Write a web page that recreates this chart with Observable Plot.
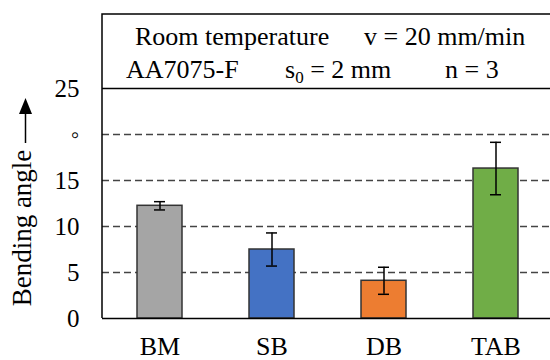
<!DOCTYPE html>
<html>
<head>
<meta charset="utf-8">
<script src="https://cdn.jsdelivr.net/npm/d3@7"></script>
<script src="https://cdn.jsdelivr.net/npm/@observablehq/plot@0.6"></script>
<style>
  html, body { margin: 0; padding: 0; background: white; }
</style>
</head>
<body>
<div id="chart"></div>
<script>
const categories = ["BM", "SB", "DB", "TAB"];
const means = [12.25, 7.5, 4.1, 16.3];
const errors = [0.45, 1.8, 1.47, 2.85];
const barColors = ["#a5a5a5", "#4472c4", "#ed7d31", "#70ad47"];
const yTicks = [0, 5, 10, 15, 20, 25];
const yTickLabels = ["0", "5", "10", "15", "◦", "25"];
const gridValues = [5, 10, 15, 20];
const yLabel = "Bending angle";
const headerLine1 = ["Room temperature", "v = 20 mm/min"];
const headerLine2 = ["AA7075-F", "s", "0", " = 2 mm", "n = 3"];

const data = categories.map((c, i) => ({cat: c, mean: means[i], lo: means[i] - errors[i], hi: means[i] + errors[i]}));
const serifCss = "'Liberation Serif', serif";

const chart = Plot.plot({
  width: 550,
  height: 360,
  marginLeft: 102,
  marginRight: 0,
  marginTop: 88,
  marginBottom: 42,
  style: "font-family: 'Liberation Serif', serif; background: white; color: #000; overflow: visible;",
  x: {domain: categories, range: [102, 552], paddingInner: 0.6, paddingOuter: 0.3},
  y: {domain: [0, 25]},
  color: {domain: categories, range: barColors},
  marks: [
    Plot.ruleY(gridValues, {stroke: "#444", strokeWidth: 1.5, strokeDasharray: "7,4"}),
    Plot.barY(data, {x: "cat", y: "mean", fill: "cat", stroke: "#333", strokeWidth: 1.5}),
    Plot.ruleX(data, {x: "cat", y1: "lo", y2: "hi", stroke: "#000", strokeWidth: 1.5}),
    Plot.tickY(data, {x: "cat", y: "lo", stroke: "#000", strokeWidth: 1.5, insetLeft: 17, insetRight: 17}),
    Plot.tickY(data, {x: "cat", y: "hi", stroke: "#000", strokeWidth: 1.5, insetLeft: 17, insetRight: 17}),
    Plot.ruleY([0, 25], {stroke: "#000", strokeWidth: 1.5}),
    Plot.axisX({tickSize: 0, tickPadding: 18, fontSize: 26, label: null}),
    Plot.axisY({ticks: yTicks, tickFormat: (d) => yTickLabels[yTicks.indexOf(d)], tickSize: 0, tickPadding: 23, fontSize: 25, label: null})
  ]
});
document.getElementById("chart").appendChild(chart);

const svg = d3.select(chart);
// header box and left axis line
const hdr = svg.append("g").attr("font-size", 26).attr("fill", "#000").attr("text-anchor", "start");
hdr.append("path").attr("d", "M102,318 L102,14 L560,14")
  .attr("fill", "none").attr("stroke", "#000").attr("stroke-width", 1.5);
hdr.append("text").attr("x", 135).attr("y", 45).text(headerLine1[0]);
hdr.append("text").attr("x", 364).attr("y", 45).text(headerLine1[1]);
hdr.append("text").attr("x", 126).attr("y", 78).text(headerLine2[0]);
const s0 = hdr.append("text").attr("x", 285).attr("y", 78);
s0.append("tspan").text(headerLine2[1]);
s0.append("tspan").attr("font-size", 17).attr("dy", 5).text(headerLine2[2]);
s0.append("tspan").attr("dy", -5).text(headerLine2[3]);
hdr.append("text").attr("x", 445).attr("y", 78).text(headerLine2[4]);

// y label with arrow
const yl = svg.append("g");
yl.append("text").attr("transform", "translate(31,228) rotate(-90)")
  .attr("text-anchor", "middle").attr("font-size", 27).text(yLabel);
yl.append("line").attr("x1", 25.5).attr("x2", 25.5).attr("y1", 143).attr("y2", 112)
  .attr("stroke", "#000").attr("stroke-width", 1.5);
yl.append("path").attr("d", "M25.5,98 L32,114 L19,114 Z").attr("fill", "#000");

svg.selectAll("text").style("font-family", serifCss);
</script>
</body>
</html>
